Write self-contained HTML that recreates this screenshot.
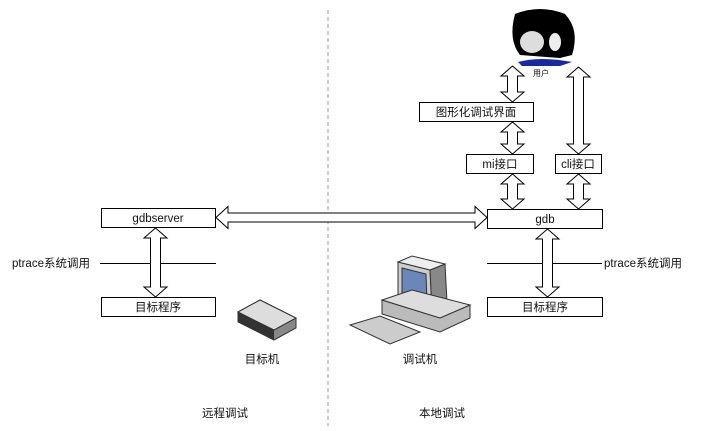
<!DOCTYPE html>
<html><head><meta charset="utf-8"><style>
body{margin:0;background:#fff;width:710px;height:426px;overflow:hidden}
text{font-family:"Liberation Sans","Noto Sans CJK SC",sans-serif;font-size:11.5px;fill:#111}
</style></head><body>
<svg width="710" height="426" viewBox="0 0 710 426" xmlns="http://www.w3.org/2000/svg">
<line x1="328" y1="10" x2="328" y2="426" stroke="#999" stroke-dasharray="4,3" stroke-width="1"/>
<g fill="#fff" stroke="#000" stroke-width="1">
<rect x="101.5" y="208.5" width="114" height="19"/>
<rect x="101.5" y="297.5" width="114" height="19"/>
<rect x="487.5" y="209.5" width="115" height="19"/>
<rect x="487.5" y="297.5" width="115" height="19"/>
<rect x="419.5" y="102.5" width="114" height="19"/>
<rect x="466.5" y="154.5" width="67" height="19"/>
<rect x="555.5" y="154.5" width="46" height="19"/>
<line x1="100" y1="263.5" x2="216" y2="263.5"/>
<line x1="487" y1="263.5" x2="602" y2="263.5"/>
<path d="M155.5 228 L167 238 L160.5 238 L160.5 287 L167 287 L155.5 297 L144 287 L150.5 287 L150.5 238 L144 238 Z"/>
<path d="M547.5 229 L559 239 L552.5 239 L552.5 287 L559 287 L547.5 297 L536 287 L542.5 287 L542.5 239 L536 239 Z"/>
<path d="M512.5 66 L524 76 L517.5 76 L517.5 92 L524 92 L512.5 102 L501 92 L507.5 92 L507.5 76 L501 76 Z"/>
<path d="M512.5 122 L524 132 L517.5 132 L517.5 144 L524 144 L512.5 154 L501 144 L507.5 144 L507.5 132 L501 132 Z"/>
<path d="M512.5 174 L524 184 L517.5 184 L517.5 199 L524 199 L512.5 209 L501 199 L507.5 199 L507.5 184 L501 184 Z"/>
<path d="M578.5 67 L590 77 L583.5 77 L583.5 144 L590 144 L578.5 154 L567 144 L573.5 144 L573.5 77 L567 77 Z"/>
<path d="M578.5 174 L590 184 L583.5 184 L583.5 199 L590 199 L578.5 209 L567 199 L573.5 199 L573.5 184 L567 184 Z"/>
<path d="M216 217.5 L228 206.5 L228 213 L475 213 L475 206.5 L487 217.5 L475 228.5 L475 222 L228 222 L228 228.5 Z"/>
</g>
<path d="M515 14 Q540 4 565 14 Q580 30 572 55 L560 58 L520 55 Q508 40 515 14Z" fill="#000"/>
<ellipse cx="532" cy="42" rx="12" ry="11" fill="#ddd"/>
<ellipse cx="555" cy="42" rx="6" ry="9" fill="#eee"/>
<path d="M518 62 Q540 56 572 62 L560 66 L522 66Z" fill="#1a2a9a"/>
<text x="533" y="76" style="font-size:8px">用户</text>
<g>
<path d="M238 312 L260 300 L296 318 L296 328 L274 340 L238 322Z" fill="#888" stroke="#333"/>
<path d="M238 312 L260 300 L296 318 L274 330Z" fill="#ddd" stroke="#333"/>
<path d="M238 312 L274 330 L274 340 L238 322Z" fill="#333"/>
</g>
<g stroke="#333">
<path d="M398 262 L430 270 L432 310 L398 300Z" fill="#ccc"/>
<path d="M402 268 L426 274 L427 302 L402 295Z" fill="#6b86b8"/>
<path d="M430 270 L445 264 L447 302 L432 310Z" fill="#888"/>
<path d="M398 262 L412 256 L445 264 L430 270Z" fill="#eee"/>
<path d="M382 300 L440 318 L470 305 L470 318 L440 332 L382 314Z" fill="#bbb"/>
<path d="M382 300 L412 290 L470 305 L440 318Z" fill="#ddd"/>
<path d="M350 325 L380 316 L420 332 L390 344Z" fill="#ccc"/>
</g>
<text x="158" y="222" text-anchor="middle">gdbserver</text>
<text x="158" y="311" text-anchor="middle">目标程序</text>
<text x="12" y="267">ptrace系统调用</text>
<text x="545" y="223" text-anchor="middle">gdb</text>
<text x="545" y="311" text-anchor="middle">目标程序</text>
<text x="604" y="267">ptrace系统调用</text>
<text x="476" y="116" text-anchor="middle">图形化调试界面</text>
<text x="500" y="168" text-anchor="middle">mi接口</text>
<text x="578" y="168" text-anchor="middle">cli接口</text>
<text x="262" y="363" text-anchor="middle">目标机</text>
<text x="420" y="363" text-anchor="middle">调试机</text>
<text x="225" y="417" text-anchor="middle">远程调试</text>
<text x="442" y="417" text-anchor="middle">本地调试</text>
</svg>
</body></html>
